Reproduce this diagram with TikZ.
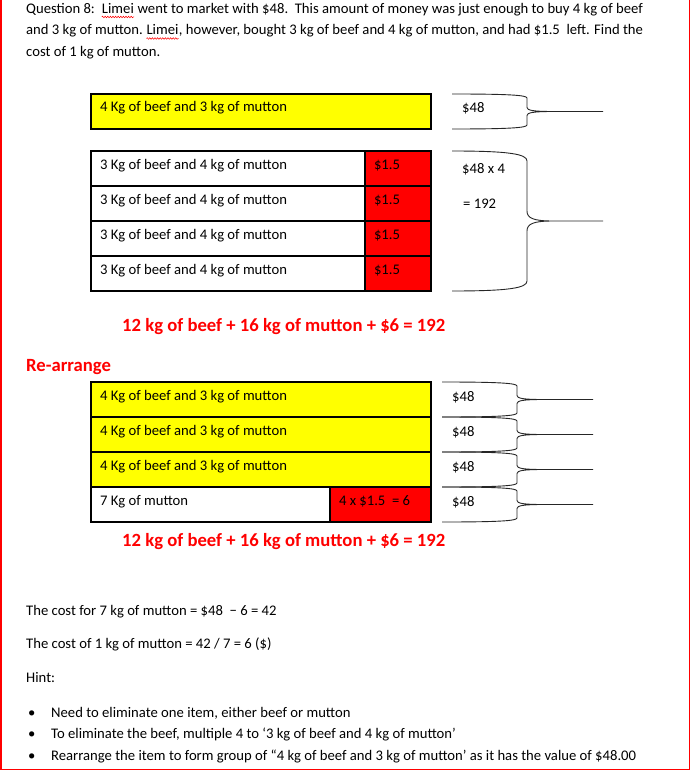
\documentclass[tikz,border=0pt]{standalone}
\usepackage{fontspec}
\setmainfont{Carlito}
\usetikzlibrary{positioning, decorations.pathmorphing}
\definecolor{wyel}{RGB}{255,255,0}
\definecolor{wred}{RGB}{255,0,0}
\tikzset{
  txt/.style = {anchor=base west, inner sep=0pt, font=\fontsize{14.67}{17}\selectfont},
  hd/.style = {anchor=base west, inner sep=0pt, text=wred,
    font=\fontsize{18.67}{22}\selectfont\bfseries},
  cel/.style = {draw=black, line width=1.1pt, anchor=north west, outer sep=0pt,
    minimum height=35pt, inner xsep=9pt, inner ysep=0pt, align=flush left,
    text height=9pt, text depth=8pt, font=\fontsize{14.67}{17}\selectfont},
  cy/.style = {cel, fill=wyel},
  cw/.style = {cel, fill=white},
  cr/.style = {cel, fill=wred},
  brc/.style = {draw=black!85, line width=0.9pt},
  frm/.style = {draw=wred, line width=1.5pt},
  squig/.style = {draw=wred, line width=0.5pt, decorate,
    decoration={snake, amplitude=0.8pt, segment length=2.6pt}}
}
% x0, x1, x2, top, bottom, bend
\newcommand{\curly}[6]{%
  \draw[brc] ({#1},{#4}) .. controls ({#2-18},{#4}) and ({#2},{#4+0.3*#6}) .. ({#2},{#4+#6})
    -- ({#2},{(#4+#5)/2-#6}) .. controls ({#2},{(#4+#5)/2-0.3*#6}) and ({#2+6},{(#4+#5)/2}) .. ({#2+26},{(#4+#5)/2})
    -- ({#3},{(#4+#5)/2})
    ({#2+26},{(#4+#5)/2}) .. controls ({#2+6},{(#4+#5)/2}) and ({#2},{(#4+#5)/2+0.3*#6}) .. ({#2},{(#4+#5)/2+#6})
    -- ({#2},{#5-#6}) .. controls ({#2},{#5-0.3*#6}) and ({#2-18},{#5}) .. ({#1},{#5});
}

\begin{document}
\begin{tikzpicture}[x=1pt, y=-1pt]
  \fill[white] (0,0) rectangle (690,770);
  \useasboundingbox (0,0) rectangle (690,770);
  \draw[frm] (0.75,0) -- (0.75,769.25) -- (689.25,769.25) -- (689.25,0);

  % question
  \node[txt] (q1) at (26,13.5) {Question 8:\ \ \mbox{}};
  \node[txt] (lim1) at (q1.base east) {Limei};
  \node[txt] (q1b) at (lim1.base east) {\ went to market with \$48.\ \ This amount of money was just enough to buy 4 kg of beef};
  \node[txt] (q2) at (26,35) {and 3 kg of mutton.\ \mbox{}};
  \node[txt] (lim2) at (q2.base east) {Limei};
  \node[txt] (q2b) at (lim2.base east) {, however, bought 3 kg of beef and 4 kg of mutton, and had \$1.5\ \ left. Find the};
  \node[txt] (q3) at (26,56.5) {cost of 1 kg of mutton.};
  \draw[squig] ([yshift=-3.5pt]lim1.base west) -- ([yshift=-3.5pt]lim1.base east);
  \draw[squig] ([yshift=-3.5pt]lim2.base west) -- ([yshift=-3.5pt]lim2.base east);

  % one group
  \node[cy, text width=322pt] (grp) at (91,94) {4 Kg of beef and 3 kg of mutton};
  \curly{452}{527}{603}{94}{129}{4}
  \node[txt] (p48) at (462,113) {\$48};

  % four times the other group
  \foreach \i in {0,...,3} {
    \node[cw, text width=256pt] (mix\i) at (91,{151+35*\i}) {3 Kg of beef and 4 kg of mutton};
    \node[cr, text width=48pt] (left\i) at (mix\i.north east) {\$1.5};
  }
  \curly{452}{527}{603}{151}{291}{10}
  \node[txt] (p48x) at (462,174) {\$48 x 4};
  \node[txt] (p192) at (463,208) {= 192};

  \node[hd] (sum1) at (122,331) {12 kg of beef + 16 kg of mutton + \$6 = 192};
  \node[hd] (rearr) at (26,371.5) {Re-arrange};

  % re-arranged
  \foreach \i in {0,...,2}
    \node[cy, text width=322pt] (grp\i) at (91,{382+35*\i}) {4 Kg of beef and 3 kg of mutton};
  \node[cw, text width=221pt] (mut) at (91,487) {7 Kg of mutton};
  \node[cr, text width=83pt] (six) at (mut.north east) {4 x \$1.5\ \ = 6};
  \foreach \i in {0,...,3} {
    \curly{442}{517}{593}{382+35*\i}{417+35*\i}{4}
    \node[txt] (q48\i) at (452,{401.5+35*\i}) {\$48};
  }

  \node[hd] (sum2) at (122,546) {12 kg of beef + 16 kg of mutton + \$6 = 192};

  % working
  \node[txt] (c7) at (26,615) {The cost for 7 kg of mutton = \$48\ \ − 6 = 42};
  \node[txt] (c1) at (26,648) {The cost of 1 kg of mutton = 42 / 7 = 6 (\$)};
  \node[txt] (hint) at (26,682) {Hint:};
  \foreach \y in {717,738,760}
    \node[txt] (bul\y) at (28,\y) {\textbullet};
  \node[txt] (h1) at (51,717) {Need to eliminate one item, either beef or mutton};
  \node[txt] (h2) at (51,738) {To eliminate the beef, multiple 4 to ‘3 kg of beef and 4 kg of mutton’};
  \node[txt] (h3) at (51,760) {Rearrange the item to form group of “4 kg of beef and 3 kg of mutton’ as it has the value of \$48.00};
\end{tikzpicture}
\end{document}
